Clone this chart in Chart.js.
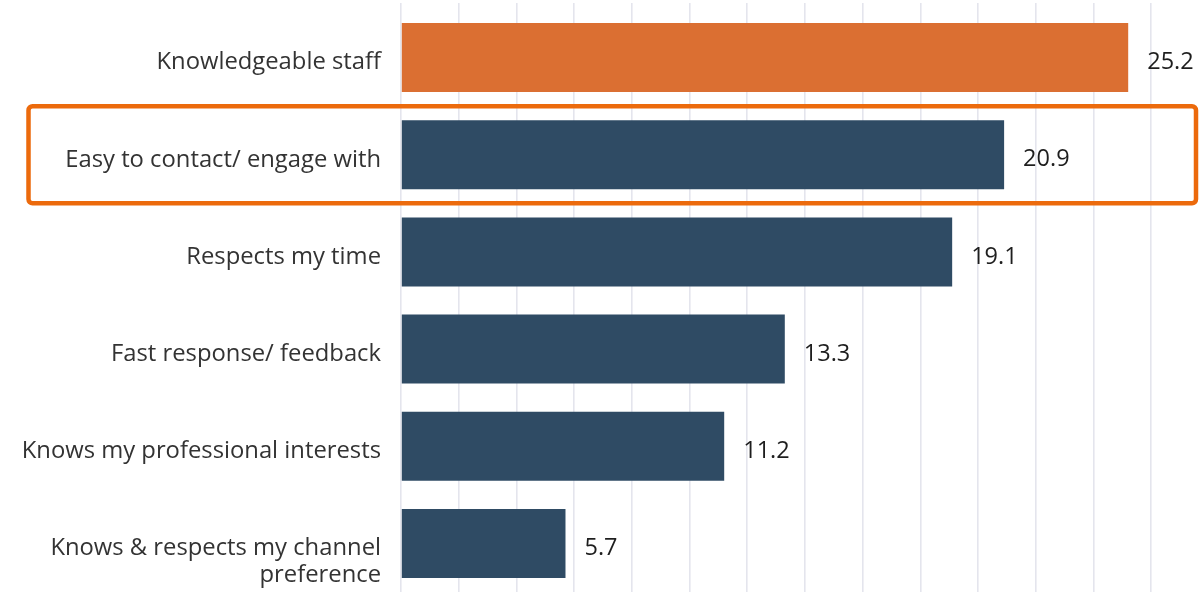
<!DOCTYPE html>
<html>
<head>
<meta charset="utf-8">
<script src="https://cdn.jsdelivr.net/npm/chart.js@4"></script>
<style>
  html, body { margin: 0; padding: 0; background: #fff; overflow: hidden; }
  #wrap { width: 1210px; height: 595px; }
</style>
</head>
<body>
<div id="wrap"><canvas id="chart" width="1210" height="595"></canvas></div>
<script>
// data
const categories = [
  'Knowledgeable staff',
  'Easy to contact/ engage with',
  'Respects my time',
  'Fast response/ feedback',
  'Knows my professional interests',
  ['Knows & respects my channel', 'preference']
];
const values = [25.2, 20.9, 19.1, 13.3, 11.2, 5.7];
const highlightIndex = 0;   // orange bar
const boxedIndex = 1;       // row with the orange frame

const ORANGE = '#db6f32';
const NAVY = '#2f4b64';
const FONT = '"Open Sans", "DejaVu Sans", sans-serif';

// value labels at the end of each bar
const valueLabels = {
  id: 'valueLabels',
  afterDatasetsDraw(chart) {
    const ctx = chart.ctx;
    const meta = chart.getDatasetMeta(0);
    ctx.save();
    ctx.font = '23.5px ' + FONT;
    ctx.fillStyle = '#1e1e1e';
    ctx.textAlign = 'left';
    ctx.textBaseline = 'middle';
    meta.data.forEach((bar, i) => {
      ctx.fillText(values[i].toFixed(1), bar.x + 19, bar.y + 5);
    });
    ctx.restore();
  }
};

// orange frame round one category row
const rowFrame = {
  id: 'rowFrame',
  afterDraw(chart) {
    const ctx = chart.ctx;
    const y = chart.scales.y;
    const half = (y.getPixelForValue(1) - y.getPixelForValue(0)) / 2;
    const cy = y.getPixelForValue(boxedIndex);
    ctx.save();
    ctx.strokeStyle = '#ec6a0c';
    ctx.lineWidth = 4.5;
    ctx.beginPath();
    ctx.roundRect(28.5, cy - half, 1196 - 28.5, half * 2, 4);
    ctx.stroke();
    ctx.restore();
  }
};

new Chart(document.getElementById('chart'), {
  type: 'bar',
  data: {
    labels: categories,
    datasets: [{
      data: values,
      backgroundColor: values.map((v, i) => i === highlightIndex ? ORANGE : NAVY),
      borderWidth: 0,
      barPercentage: 0.71,
      categoryPercentage: 1.0
    }]
  },
  options: {
    indexAxis: 'y',
    responsive: false,
    animation: false,
    layout: { padding: { top: 3, bottom: 3, left: 0, right: 1 } },
    scales: {
      x: {
        position: 'top',
        min: 0,
        max: 28,
        ticks: { display: false, stepSize: 2 },
        grid: { color: '#e4e5ed', lineWidth: 1.6, drawTicks: true, tickLength: 6 },
        border: { display: false }
      },
      y: {
        grid: { display: false, drawTicks: false },
        border: { display: false },
        ticks: {
          color: '#333',
          padding: 20,
          labelOffset: 5,
          font: { family: FONT, size: 23.8, lineHeight: 1.12 },
          // multi-line label: first line sits on the tick, the rest below
          callback: function (value, index) {
            const lab = categories[index];
            return Array.isArray(lab) ? [''].concat(lab) : lab;
          }
        },
        afterFit(scale) {
          scale.width = 401;
          scale.paddingTop = 0;
          scale.paddingBottom = 0;
        }
      }
    },
    plugins: {
      legend: { display: false },
      tooltip: { enabled: false }
    }
  },
  plugins: [valueLabels, rowFrame]
});
</script>
</body>
</html>
